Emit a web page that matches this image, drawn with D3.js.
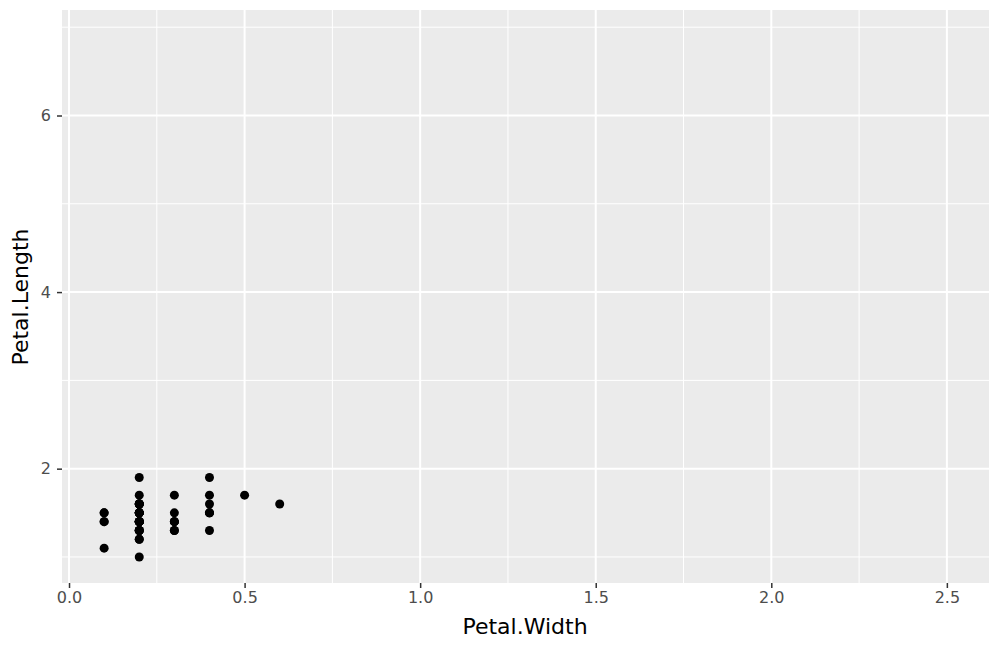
<!DOCTYPE html>
<html><head><meta charset="utf-8">
<script src="https://cdn.jsdelivr.net/npm/d3@7"></script>
<style>body{margin:0;background:#fff}svg{display:block}</style>
</head><body>
<svg id="c" width="1000" height="650"></svg>
<script>
const petalWidth  = [0.2,0.2,0.2,0.2,0.2,0.4,0.3,0.2,0.2,0.1,0.2,0.2,0.1,0.1,0.2,0.4,0.4,0.3,0.3,0.3,0.2,0.4,0.2,0.5,0.2,0.2,0.4,0.2,0.2,0.2,0.2,0.4,0.1,0.2,0.2,0.2,0.2,0.1,0.2,0.2,0.3,0.3,0.2,0.6,0.4,0.3,0.2,0.2,0.2,0.2];
const petalLength = [1.4,1.4,1.3,1.5,1.4,1.7,1.4,1.5,1.4,1.5,1.5,1.6,1.4,1.1,1.2,1.5,1.3,1.4,1.7,1.5,1.7,1.5,1.0,1.7,1.9,1.6,1.6,1.5,1.4,1.6,1.6,1.5,1.5,1.4,1.5,1.2,1.3,1.4,1.3,1.5,1.3,1.3,1.3,1.6,1.9,1.4,1.6,1.4,1.5,1.4];
const xLimits = [0.1, 2.5];
const yLimits = [1.0, 6.9];
const xTicks = [0, 0.5, 1.0, 1.5, 2.0, 2.5];
const xMinor = [0.25, 0.75, 1.25, 1.75, 2.25];
const yTicks = [2, 4, 6];
const yMinor = [1, 3, 5, 7];

const svg = d3.select("#c");
const L = 62, T = 10, R = 989, B = 583;
const ex = (xLimits[1]-xLimits[0])*0.05, ey = (yLimits[1]-yLimits[0])*0.05;
const x = d3.scaleLinear().domain([xLimits[0]-ex, xLimits[1]+ex]).range([L, R]);
const y = d3.scaleLinear().domain([yLimits[0]-ey, yLimits[1]+ey]).range([B, T]);

svg.append("rect").attr("x", L).attr("y", T).attr("width", R-L).attr("height", B-T).attr("fill", "#ebebeb");
const g = svg.append("g");
g.selectAll(".xm").data(xMinor).join("line").attr("x1", d=>x(d)).attr("x2", d=>x(d)).attr("y1", T).attr("y2", B).attr("stroke", "#fff").attr("stroke-width", 1);
g.selectAll(".ym").data(yMinor).join("line").attr("y1", d=>y(d)).attr("y2", d=>y(d)).attr("x1", L).attr("x2", R).attr("stroke", "#fff").attr("stroke-width", 1);
g.selectAll(".xM").data(xTicks).join("line").attr("x1", d=>x(d)).attr("x2", d=>x(d)).attr("y1", T).attr("y2", B).attr("stroke", "#fff").attr("stroke-width", 2);
g.selectAll(".yM").data(yTicks).join("line").attr("y1", d=>y(d)).attr("y2", d=>y(d)).attr("x1", L).attr("x2", R).attr("stroke", "#fff").attr("stroke-width", 2);

const pts = petalWidth.map((w,i)=>({w, l: petalLength[i]}));
svg.append("g").selectAll("circle").data(pts).join("circle")
  .attr("cx", d=>x(d.w)).attr("cy", d=>y(d.l)).attr("r", 4.5).attr("fill", "#000");

const xAxis = d3.axisBottom(x).tickValues(xTicks).tickFormat(d3.format(".1f")).tickSize(5).tickPadding(4);
const gx = svg.append("g").attr("transform", `translate(0,${B})`).call(xAxis);
const yAxis = d3.axisLeft(y).tickValues(yTicks).tickFormat(d3.format("d")).tickSize(5).tickPadding(6);
const gy = svg.append("g").attr("transform", `translate(${L},0)`).call(yAxis);
[gx, gy].forEach(a => {
  a.select(".domain").remove();
  a.attr("font-size", null).attr("font-family", null);
  a.selectAll(".tick line").attr("stroke", "#333").attr("stroke-width", 1.5);
  a.selectAll(".tick text").attr("fill", "#4d4d4d").style("font-family", "'DejaVu Sans', sans-serif").style("font-size", "16px");
});
svg.append("text").attr("x", 525).attr("y", 634).attr("text-anchor", "middle")
  .style("font-family", "'DejaVu Sans', sans-serif").style("font-size", "22px").attr("fill", "#000").text("Petal.Width");
svg.append("text").attr("transform", `translate(28,297) rotate(-90)`).attr("text-anchor", "middle")
  .style("font-family", "'DejaVu Sans', sans-serif").style("font-size", "22px").attr("fill", "#000").text("Petal.Length");
</script>
</body></html>
